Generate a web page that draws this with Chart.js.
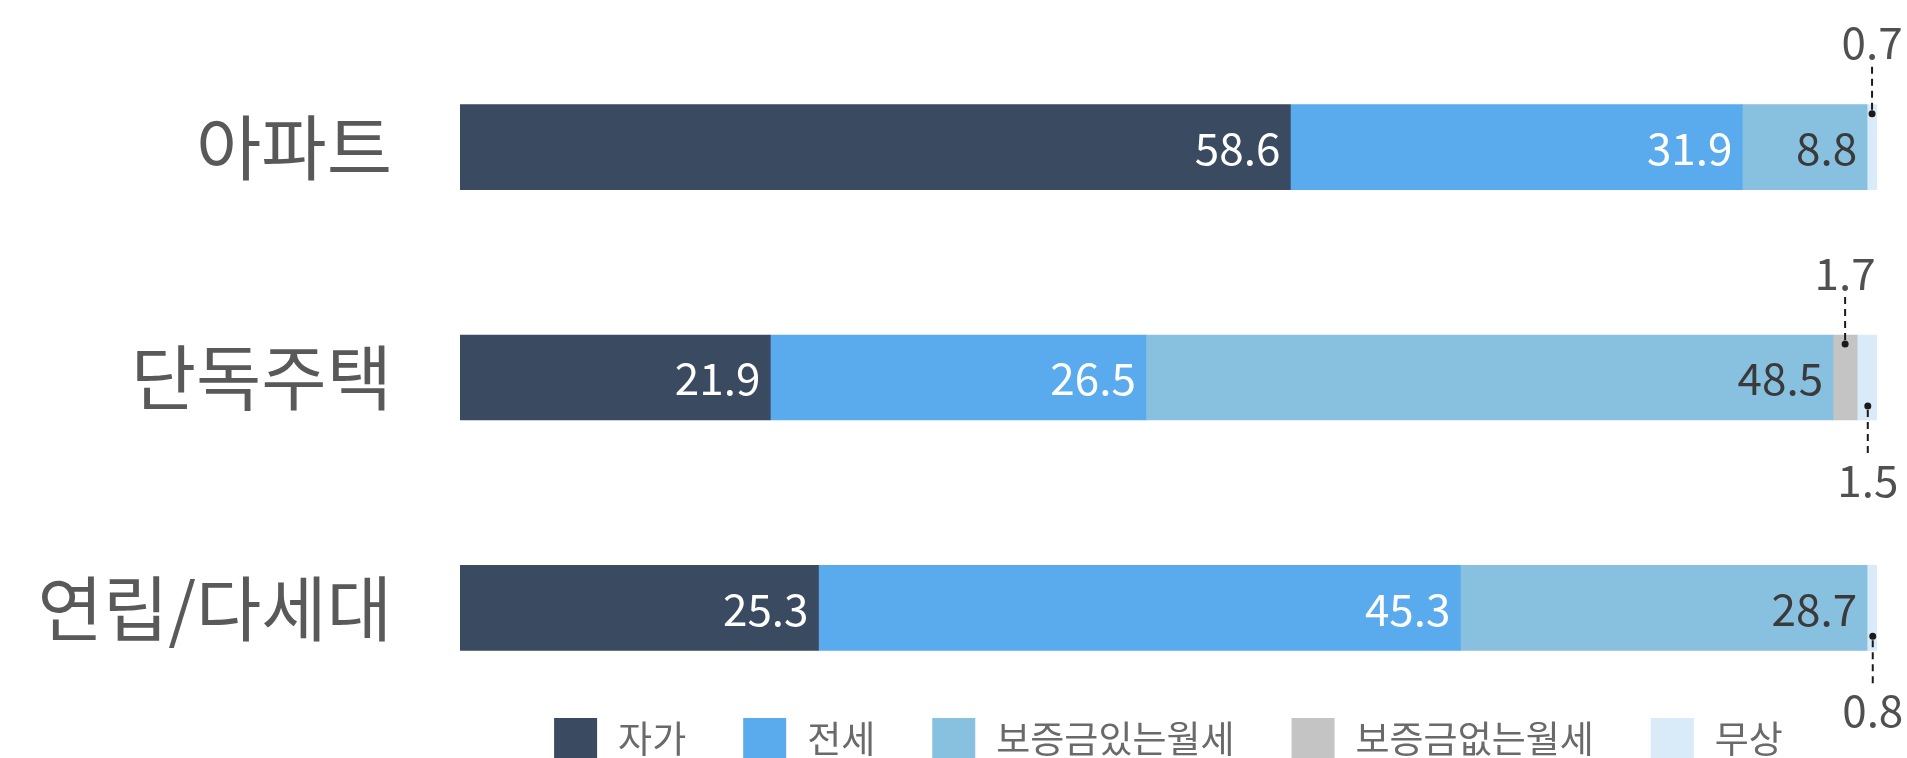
<!DOCTYPE html>
<html>
<head>
<meta charset="utf-8">
<script src="https://cdn.jsdelivr.net/npm/chart.js@4"></script>
<style>
  html, body { margin: 0; padding: 0; background: #ffffff; overflow: hidden; }
  #wrap { width: 1907px; height: 758px; position: relative; }
</style>
</head>
<body>
<div id="wrap"><canvas id="c"></canvas></div>
<script>
// ---- data ----
const categories = ['아파트', '단독주택', '연립/다세대'];
const seriesNames = ['자가', '전세', '보증금있는월세', '보증금없는월세', '무상'];
const ownValues = [58.6, 21.9, 25.3];          // 자가
const jeonseValues = [31.9, 26.5, 45.3];       // 전세
const depositRentValues = [8.8, 48.5, 28.7];   // 보증금있는월세
const noDepositRentValues = [null, 1.7, null]; // 보증금없는월세
const freeValues = [0.7, 1.5, 0.8];            // 무상
const seriesColors = ['#3a4a60', '#5aabee', '#88c0e0', '#c4c4c4', '#d9ebf8'];
const labelColors = ['#ffffff', '#ffffff', '#3a3a3a', '#3a3a3a', '#3a3a3a'];
// which side small values are called out on (per series, per category)
const calloutSide = [null, null, null, ['up', 'up', 'up'], ['up', 'down', 'down']];

const FONT = "'Noto Sans CJK KR', 'Noto Sans', sans-serif";

const valueLabelPlugin = {
  id: 'valueLabels',
  afterDatasetsDraw(chart) {
    const ctx = chart.ctx;
    ctx.save();
    chart.data.datasets.forEach((ds, di) => {
      const meta = chart.getDatasetMeta(di);
      meta.data.forEach((bar, i) => {
        const v = ds.data[i];
        if (v == null) return;
        const p = bar.getProps(['x', 'y', 'base', 'height'], true);
        const left = Math.min(p.x, p.base), right = Math.max(p.x, p.base);
        const top = p.y - p.height / 2, bottom = p.y + p.height / 2;
        const txt = v.toFixed(1);
        if (v >= 5) {
          ctx.font = `44px ${FONT}`;
          ctx.fillStyle = labelColors[di];
          ctx.textAlign = 'right';
          ctx.textBaseline = 'middle';
          ctx.fillText(txt, right - 10, p.y + 1);
        } else {
          const side = (calloutSide[di] || [])[i] || 'up';
          const cx = (left + right) / 2;
          ctx.strokeStyle = '#1a1a1a';
          ctx.fillStyle = '#1a1a1a';
          ctx.lineWidth = 2;
          ctx.setLineDash([7, 5]);
          ctx.beginPath();
          let dotY, lblY;
          if (side === 'up') {
            dotY = top + 9;
            ctx.moveTo(cx, top - 38);
            ctx.lineTo(cx, dotY);
            lblY = top - 62;
          } else {
            dotY = bottom - 14;
            ctx.moveTo(cx, bottom + 33);
            ctx.lineTo(cx, dotY);
            lblY = bottom + 60;
          }
          ctx.stroke();
          ctx.setLineDash([]);
          ctx.beginPath();
          ctx.arc(cx, dotY, 3.5, 0, Math.PI * 2);
          ctx.fill();
          ctx.font = `44px ${FONT}`;
          ctx.fillStyle = '#505050';
          ctx.textAlign = 'center';
          ctx.textBaseline = 'middle';
          ctx.fillText(txt, cx, lblY);
        }
      });
    });
    ctx.restore();
  }
};

const legendPlugin = {
  id: 'bottomLegend',
  afterDraw(chart) {
    const ctx = chart.ctx;
    const ca = chart.chartArea;
    const BOX = 43, BOX_GAP = 21, ITEM_GAP = 57;
    ctx.save();
    ctx.font = `37px ${FONT}`;
    const items = chart.data.datasets.map(d => ({ text: d.label, color: d.backgroundColor }));
    const widths = items.map(it => BOX + BOX_GAP + ctx.measureText(it.text).width);
    const total = widths.reduce((a, b) => a + b, 0) + ITEM_GAP * (items.length - 1);
    let x = (ca.left + ca.right) / 2 - total / 2;
    const boxTop = chart.height - 40;
    const textY = chart.height - 19;
    items.forEach((it, k) => {
      ctx.fillStyle = it.color;
      ctx.fillRect(x, boxTop, BOX, BOX);
      ctx.fillStyle = '#6a6a6a';
      ctx.textAlign = 'left';
      ctx.textBaseline = 'middle';
      ctx.fillText(it.text, x + BOX + BOX_GAP, textY);
      x += widths[k] + ITEM_GAP;
    });
    ctx.restore();
  }
};

const seriesValues = [ownValues, jeonseValues, depositRentValues, noDepositRentValues, freeValues];

new Chart(document.getElementById('c'), {
  type: 'bar',
  data: {
    labels: categories,
    datasets: seriesNames.map((name, k) => ({
      label: name,
      data: seriesValues[k],
      backgroundColor: seriesColors[k],
      borderWidth: 0,
      barThickness: 85
    }))
  },
  options: {
    indexAxis: 'y',
    responsive: true,
    maintainAspectRatio: false,
    animation: false,
    layout: { padding: { left: 0, right: 30, top: 32, bottom: 35 } },
    plugins: {
      legend: { display: false },
      tooltip: { enabled: false },
      title: { display: false }
    },
    scales: {
      x: {
        stacked: true,
        display: false,
        min: 0,
        max: 100
      },
      y: {
        stacked: true,
        grid: { display: false, drawTicks: false },
        border: { display: false },
        ticks: {
          padding: 68,
          color: '#595959',
          font: { family: FONT, size: 71 }
        },
        afterFit(scale) {
          scale.width = 460;
          scale.paddingTop = 0;
          scale.paddingBottom = 0;
        }
      }
    }
  },
  plugins: [valueLabelPlugin, legendPlugin]
});
</script>
</body>
</html>
